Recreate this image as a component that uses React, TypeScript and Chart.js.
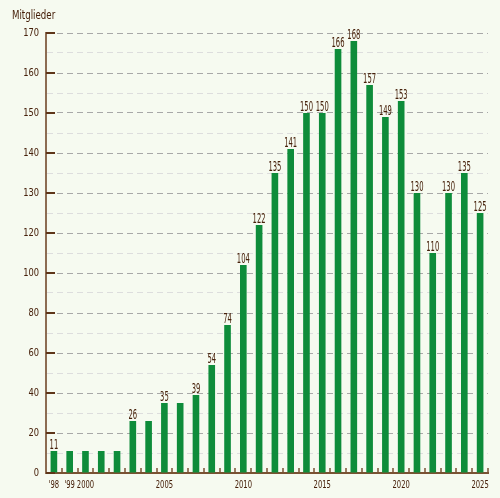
import { useEffect, useRef } from "react";
import { Chart, registerables, LinearScale } from "chart.js";

Chart.register(...registerables);

// membership at the end of each year
const years = [
  1998, 1999, 2000, 2001, 2002, 2003, 2004, 2005, 2006, 2007, 2008, 2009, 2010, 2011,
  2012, 2013, 2014, 2015, 2016, 2017, 2018, 2019, 2020, 2021, 2022, 2023, 2024, 2025,
];
const members = [
  11, 11, 11, 11, 11, 26, 26, 35, 35, 39, 54, 74, 104, 122,
  135, 141, 150, 150, 166, 168, 157, 149, 153, 130, 110, 130, 135, 125,
];
// bars that carry their number on top
const showValue = [
  true, false, false, false, false, true, false, true, false, true, true, true, true, true,
  true, true, true, true, true, true, true, true, true, true, true, true, true, true,
];
const yearLabels: Record<number, string> = {
  1998: "'98", 1999: "'99", 2000: "2000", 2005: "2005",
  2010: "2010", 2015: "2015", 2020: "2020", 2025: "2025",
};
const yMajor = [0, 20, 40, 60, 80, 100, 120, 130, 140, 150, 160, 170];
const yMinor = [10, 30, 50, 70, 90, 110, 125, 135, 145, 155, 165];
const Y_BREAK = 120; // above this value the axis runs twice as tall

const FONT = '"DejaVu Sans Condensed", "Liberation Sans Narrow", sans-serif';
const BG = "#f6faf0";
const BAR = "#0e8c3a";
const TEXT = "#46200a";
const AXIS = "#7a5233";
const AXIS_Y = "#8c6c52";
const GRID_DARK = "#a8a8a8";
const GRID_LIGHT = "#dddddd";

const stretch = (v: number) => (v <= Y_BREAK ? v : Y_BREAK + (v - Y_BREAK) * 2);
const unstretch = (t: number) => (t <= Y_BREAK ? t : Y_BREAK + (t - Y_BREAK) / 2);

// linear scale with a steeper section above Y_BREAK
class BrokenLinearScale extends LinearScale {
  static id = "brokenLinear";
  static defaults = LinearScale.defaults;
  determineDataLimits() {
    this.min = 0;
    this.max = yMajor[yMajor.length - 1];
  }
  buildTicks() {
    return [...yMajor, ...yMinor].sort((a, b) => a - b).map((value) => ({ value }));
  }
  getPixelForValue(value: number) {
    return this.getPixelForDecimal(stretch(value) / stretch(this.max));
  }
  getValueForPixel(pixel: number) {
    return unstretch(this.getDecimalForPixel(pixel) * stretch(this.max));
  }
}
Chart.register(BrokenLinearScale);

// narrow text: the original uses a condensed face
function squeezed(ctx: CanvasRenderingContext2D, text: string, x: number, y: number,
  font: string, sx: number, align: CanvasTextAlign, baseline: CanvasTextBaseline) {
  ctx.save();
  ctx.translate(x, y);
  ctx.scale(sx, 1);
  ctx.font = `${font} ${FONT}`;
  ctx.textAlign = align;
  ctx.textBaseline = baseline;
  ctx.fillText(text, 0, 0);
  ctx.restore();
}

const decor = {
  id: "decor",
  afterDatasetsDraw(chart: any) {
    const { ctx, chartArea, scales } = chart;
    const xs = scales.x;
    const ys = scales.y;
    ctx.save();

    // y tick marks pointing into the plot, with labels
    ctx.strokeStyle = "#5e3519";
    ctx.lineWidth = 2;
    ctx.fillStyle = TEXT;
    for (const v of yMajor) {
      const py = Math.round(ys.getPixelForValue(v));
      ctx.beginPath();
      ctx.moveTo(chartArea.left, py);
      ctx.lineTo(chartArea.left + 9, py);
      ctx.stroke();
      squeezed(ctx, String(v), chartArea.left - 7, py + 0.5, "11px", 0.84, "right", "middle");
    }

    // x tick marks on the borders between years, labels under some bars
    const half = (xs.getPixelForValue(1) - xs.getPixelForValue(0)) / 2;
    ctx.strokeStyle = AXIS;
    ctx.lineWidth = 1.5;
    for (let i = 0; i < years.length; i++) {
      const px = Math.round(xs.getPixelForValue(i) + half);
      ctx.beginPath();
      ctx.moveTo(px, chartArea.bottom);
      ctx.lineTo(px, chartArea.bottom - 5);
      ctx.stroke();
      const lab = yearLabels[years[i]];
      if (lab) squeezed(ctx, lab, xs.getPixelForValue(i), chartArea.bottom + 15, "10.5px", 0.72, "center", "alphabetic");
    }

    // numbers above the bars
    const meta = chart.getDatasetMeta(0);
    meta.data.forEach((bar: any, i: number) => {
      if (!showValue[i]) return;
      squeezed(ctx, String(members[i]), bar.x, bar.y - 2, "14px", 0.54, "center", "alphabetic");
    });

    // axis title
    squeezed(ctx, "Mitglieder", 12, 19, "12px", 0.8, "left", "alphabetic");
    ctx.restore();
  },
};

export default function App() {
  const ref = useRef<HTMLCanvasElement | null>(null);

  useEffect(() => {
    document.body.style.margin = "0";
    document.body.style.background = BG;
    if (!ref.current) return;

    const chart = new Chart(ref.current, {
      type: "bar",
      data: {
        labels: years.map(String),
        datasets: [
          {
            data: members,
            backgroundColor: BAR,
            borderWidth: 0,
            barPercentage: 0.42,
            categoryPercentage: 1,
          },
        ],
      },
      options: {
        animation: false,
        responsive: true,
        maintainAspectRatio: false,
        layout: { padding: { left: 0, right: 12, top: 33, bottom: 25 } },
        plugins: { legend: { display: false }, tooltip: { enabled: false } },
        scales: {
          x: {
            grid: { drawOnChartArea: false, drawTicks: false },
            border: { display: true, color: AXIS, width: 2 },
            ticks: { display: false },
          },
          y: {
            type: "brokenLinear" as any,
            min: 0,
            max: 170,
            afterFit: (s: any) => {
              s.width = 46;
            },
            grid: {
              drawTicks: false,
              lineWidth: 1,
              color: (c: any) => (yMajor.includes(c.tick?.value) ? GRID_DARK : GRID_LIGHT),
            },
            border: { display: true, color: AXIS_Y, width: 2, dash: [6, 4] },
            ticks: { display: false },
          },
        },
      },
      plugins: [decor],
    });

    return () => chart.destroy();
  }, []);

  return (
    <div style={{ width: 500, height: 498, position: "relative" }}>
      <canvas ref={ref} />
    </div>
  );
}
